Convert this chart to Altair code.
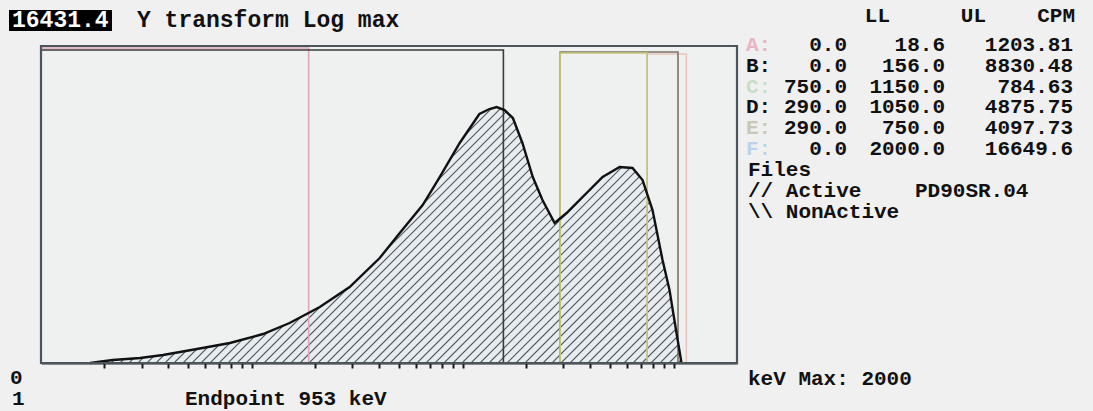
import altair as alt
import numpy as np
import pandas as pd

# ---- spectrum (energy in keV, counts) ----
energy = [1.71, 2.19, 2.95, 3.79, 5.49, 7.87, 11.3, 15.1, 21.0, 29.1,
          40.4, 50.3, 64.6, 77.8, 96.8, 120, 134, 145, 158, 173,
          192, 215, 239, 273, 311, 387, 461, 555, 639, 713,
          795, 887, 957, 1033, 1091]
counts = [0, 155, 260, 415, 726, 1037, 1503, 2073, 2902, 3939,
          5442, 6738, 8189, 9640, 11403, 12906, 13165, 13268, 13113, 12698,
          11403, 9640, 8448, 7256, 7774, 8811, 9640, 10159, 10107, 9485,
          7930, 5338, 3784, 1555, 0]
y_max = 16431.4
kev_max = 2000
endpoint = 953

# ---- counting regions ----
regions = ["A", "B", "C", "D", "E", "F"]
ll = [0.0, 0.0, 750.0, 290.0, 290.0, 0.0]
ul = [18.6, 156.0, 1150.0, 1050.0, 750.0, 2000.0]
cpm = [1203.81, 8830.48, 784.63, 4875.75, 4097.73, 16649.6]
active_file = "PD90SR.04"

# ---- styling ----
W, H = 696, 317          # plot area
L, T = 41, 46            # plot origin on the page
BG = "#f0f0f0"
PLOT_BG = "#eff1f1"
FILL_BG = "#e6ecef"
FONT = "Liberation Mono"
FS = 21
INK = "#111111"

region_line = {"A": "#e2a4bc", "B": "#3a3a3a", "C": "#e8c4bc",
               "D": "#7c7468", "E": "#c4c474", "F": "#4c545c"}
region_label = {"A": "#e8b4c6", "B": INK, "C": "#c6dec4",
                "D": INK, "E": "#c8c8b4", "F": "#bcd2ea"}
region_top = {"A": 2, "B": 4, "C": 8, "D": 6, "E": 7}

spec = pd.DataFrame({"energy": energy, "counts": counts})
mask = pd.DataFrame({"energy": [1] + energy + [kev_max],
                     "counts": [0] + counts + [0]})
mask["top"] = y_max
reg = pd.DataFrame({"region": regions,
                    "lo": [max(v, 1.0) for v in ll],
                    "hi": ul})

xscale = alt.Scale(type="log", domain=[1, kev_max])
yscale = alt.Scale(domain=[0, y_max])
minor_ticks = [m * 10 ** e for e in range(3) for m in range(2, 11)]

# light tint under the spectrum
tint = alt.Chart(spec).mark_area(color=FILL_BG).encode(
    x=alt.X("energy:Q", scale=xscale,
            axis=alt.Axis(values=minor_ticks, labels=False, title=None, grid=False,
                          ticks=True, tickSize=5, tickWidth=2, tickColor="#1a1a1a",
                          domain=True, domainColor="#222", domainWidth=2)),
    y=alt.Y("counts:Q", scale=yscale, axis=None))

# diagonal "//" hatching across the plot area
step = 9
hatch_df = pd.DataFrame({"x0": np.arange(-H, W + step, step)})
hatch_df["x1"] = hatch_df["x0"] + H
hatch = alt.Chart(hatch_df).mark_rule(clip=True, color="#4e5458", strokeWidth=1.1).encode(
    x=alt.X("x0:Q", scale=None), x2="x1:Q",
    y=alt.value(H), y2=alt.value(0))

# cover everything above the spectrum with the plot background
cover = alt.Chart(mask).mark_area(clip=True, color=PLOT_BG, opacity=1).encode(
    x=alt.X("energy:Q", scale=xscale),
    y=alt.Y("counts:Q", scale=yscale),
    y2="top:Q")

boxes = []
for r in regions:
    if r == "F":
        continue
    boxes.append(
        alt.Chart(reg).transform_filter(alt.datum.region == r)
        .mark_rect(filled=False, stroke=region_line[r], strokeWidth=1.6, clip=True)
        .encode(x=alt.X("lo:Q", scale=xscale), x2="hi:Q",
                y=alt.value(region_top[r]), y2=alt.value(H)))

curve = alt.Chart(spec).mark_line(color=INK, strokeWidth=2.4).encode(
    x=alt.X("energy:Q", scale=xscale),
    y=alt.Y("counts:Q", scale=yscale))

frame = (alt.Chart(reg).transform_filter(alt.datum.region == "F")
         .mark_rect(filled=False, stroke=region_line["F"], strokeWidth=2.2)
         .encode(x=alt.X("lo:Q", scale=xscale), x2="hi:Q",
                 y=alt.value(0), y2=alt.value(H)))

one = pd.DataFrame({"i": [0]})


def label(text, px, py, color=INK, align="left", size=FS):
    return alt.Chart(one).mark_text(
        text=text, align=align, baseline="alphabetic", font=FONT,
        fontSize=size, fontWeight="bold", color=color
    ).encode(x=alt.value(px - L), y=alt.value(py - T))


texts = []
# max value badge and title
texts.append(alt.Chart(one).mark_rect(color="#000000").encode(
    x=alt.value(9 - L), x2=alt.value(112 - L), y=alt.value(10 - T), y2=alt.value(31 - T)))
texts.append(label(f"{y_max:.1f}", 12, 27, color="#ffffff", size=23))
texts.append(label("Y transform Log max", 137, 27, size=23))

# region table
col_ll, col_ul, col_cpm = 847, 945, 1073
texts.append(label("LL", 890, 22, align="right"))
texts.append(label("UL", 986, 22, align="right"))
texts.append(label("CPM", 1075, 22, align="right"))
row0, row_h = 51, 20.8
for i, r in enumerate(regions):
    py = row0 + i * row_h
    s = f"{cpm[i]:.2f}"
    if len(s) > 7:
        s = f"{cpm[i]:.1f}"
    texts.append(label(f"{r}:", 746, py, color=region_label[r]))
    texts.append(label(f"{ll[i]:.1f}", col_ll, py, align="right"))
    texts.append(label(f"{ul[i]:.1f}", col_ul, py, align="right"))
    texts.append(label(s, col_cpm, py, align="right"))

texts.append(label("Files", 748, 176))
texts.append(label("// Active", 748, 197))
texts.append(label(active_file, 915, 197))
texts.append(label("\\\\ NonActive", 748, 218))
texts.append(label(f"keV Max: {kev_max}", 748, 385))
texts.append(label("0", 10, 384))
texts.append(label("1", 12, 405))
texts.append(label(f"Endpoint  {endpoint} keV", 185, 405))

chart = alt.layer(tint, hatch, cover, *boxes, curve, frame, *texts).properties(
    width=W, height=H,
    padding={"left": L, "top": T, "right": 1093 - L - W, "bottom": 411 - T - H},
    autosize=alt.AutoSizeParams(type="none"),
    background=BG,
).configure_view(stroke=None, fill=PLOT_BG)

chart.save("out.html", embed_options={"renderer": "svg", "actions": False})
